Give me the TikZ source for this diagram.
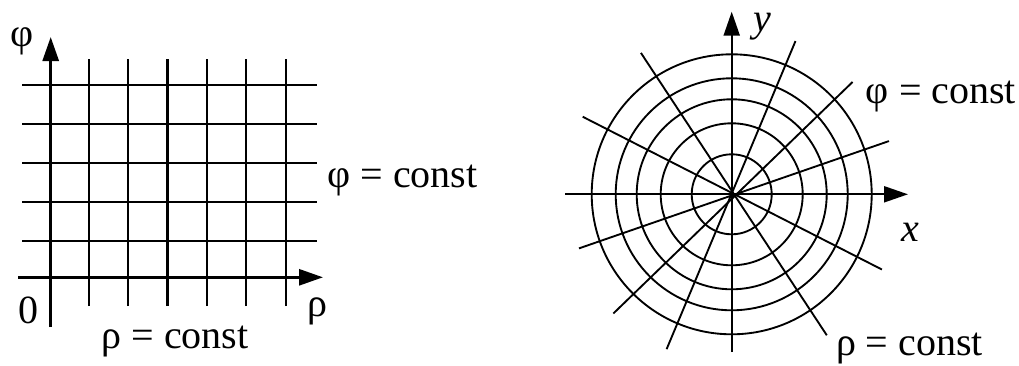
\documentclass[tikz,border=0pt]{standalone}
\usepackage{fontspec}
\setmainfont{Liberation Serif}
\usetikzlibrary{arrows.meta}

\begin{document}
\begin{tikzpicture}[
  x=0.75pt, y=0.75pt, font=\fontsize{30}{35}\selectfont,
  gridline/.style={line width=1.7pt},
  axis/.style={line width=2.1pt, -{Triangle[length=18pt, width=12pt]}},
  polar/.style={line width=1.4pt},
  glyph/.style={inner sep=0pt},
  lbl/.style={inner sep=0pt, anchor=base}]
  \useasboundingbox (0,0) rectangle (1019,365);
  % rectangular grid
  \coordinate (O1) at (50.7,87.7);
  \coordinate (xs1) at (18,87.7);
  \coordinate (xe1) at (323,87.7);
  \coordinate (ys1) at (50.7,38);
  \coordinate (ye1) at (50.7,328);
  \foreach \x in {0,...,5} \draw[gridline] (88.7+39.4*\x,59) -- (88.7+39.4*\x,306);
  \foreach \y in {0,...,4} \draw[gridline] (22,124.3+39*\y) -- (317,124.3+39*\y);
  \draw[axis] (xs1) -- (xe1);
  \draw[axis] (ys1) -- (ye1);
  \node[glyph] (phiL) at (22.5,323.5) {φ};
  \node[glyph] (zeroL) at (28,54.5) {0};
  \node[glyph] (rhoL) at (317,53.5) {ρ};
  \node[lbl] (rhoconstL) at (175,16.7) {ρ = const};
  \node[lbl] (phiconstL) at (402.5,178) {φ = const};
  % polar grid
  \coordinate (O2) at (731.7,170.7);
  \begin{scope}[shift={(O2)}]
    \foreach \r in {40,71,95,116,140} \draw[polar] (0,0) circle[radius=\r];
    \foreach \a/\r/\b/\s in {18.7/166/199.5/162, 42.9/165/225.2/168, 67.4/166/247.2/168,
        122.7/168/304/170, 152.5/168/333.4/168}
      \draw[polar] (\a:\r) -- (\b:\s);
    \coordinate (xs2) at (-166.7,0);
    \coordinate (xe2) at (176.3,0);
    \coordinate (ys2) at (0,-157.7);
    \coordinate (ye2) at (0,182.6);
  \end{scope}
  \draw[axis, line width=1.6pt] (xs2) -- (xe2);
  \draw[axis, line width=1.6pt] (ys2) -- (ye2);
  \node[glyph] (ylab) at (762,338) {\itshape y};
  \node[glyph] (xlab) at (910.5,133) {\itshape x};
  \node[lbl] (phiconstR) at (941,262) {φ = const};
  \node[lbl] (rhoconstR) at (909.5,10) {ρ = const};
\end{tikzpicture}
\end{document}
